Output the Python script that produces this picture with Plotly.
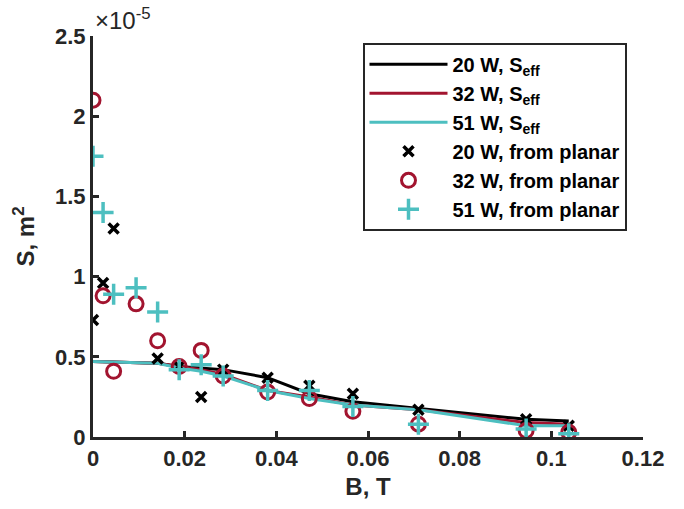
import plotly.graph_objects as go

# Magnetic field, T
B_line = [0, 0.0141, 0.0188, 0.0236, 0.0284, 0.0381, 0.0472, 0.0567, 0.071, 0.0945, 0.1038]
# Effective area S_eff, units of 1e-5 m^2
S_eff_20 = [0.47, 0.46, 0.44, 0.43, 0.42, 0.37, 0.27, 0.22, 0.18, 0.11, 0.10]
S_eff_32 = [0.47, 0.46, 0.44, 0.42, 0.39, 0.29, 0.25, 0.20, 0.17, 0.09, 0.08]
S_eff_51 = [0.47, 0.46, 0.43, 0.41, 0.38, 0.29, 0.24, 0.20, 0.17, 0.07, 0.07]

# Area from planar probe analysis, units of 1e-5 m^2
B_pts = [0, 0.0022, 0.0045, 0.0094, 0.0141, 0.0188, 0.0236, 0.0284, 0.0381, 0.0472, 0.0567, 0.071, 0.0945, 0.1038]
S_planar_20 = [0.73, 0.96, 1.30, None, 0.49, 0.44, 0.25, 0.42, 0.37, 0.32, 0.27, 0.17, 0.11, 0.07]
S_planar_32 = [2.10, 0.88, 0.41, 0.83, 0.60, 0.44, 0.54, 0.38, 0.28, 0.24, 0.16, 0.08, 0.04, 0.03]
S_planar_51 = [1.75, 1.40, 0.89, 0.93, 0.78, 0.42, 0.45, 0.38, 0.29, 0.29, 0.19, 0.08, 0.05, 0.02]

x_ticks = [0, 0.02, 0.04, 0.06, 0.08, 0.1, 0.12]
y_ticks = [0, 0.5, 1, 1.5, 2, 2.5]

C_BLACK = "#000000"
C_RED = "#A2142F"
C_TEAL = "#4DBFC0"
AX = "#262626"
FONT = "Liberation Sans, Arial, Helvetica, sans-serif"

fig = go.Figure()

for y, c, name in [(S_eff_20, C_BLACK, "20 W, S<sub>eff</sub>"),
                   (S_eff_32, C_RED, "32 W, S<sub>eff</sub>"),
                   (S_eff_51, C_TEAL, "51 W, S<sub>eff</sub>")]:
    fig.add_trace(go.Scatter(x=B_line, y=y, mode="lines", name=name,
                             line=dict(color=c, width=3)))

fig.add_trace(go.Scatter(x=B_pts, y=S_planar_20, mode="markers", name="20 W, from planar",
                         marker=dict(symbol="x-thin", size=10, color=C_BLACK,
                                     line=dict(color=C_BLACK, width=3.5))))
fig.add_trace(go.Scatter(x=B_pts, y=S_planar_32, mode="markers", name="32 W, from planar",
                         marker=dict(symbol="circle-open", size=14, color=C_RED,
                                     line=dict(color=C_RED, width=3))))
fig.add_trace(go.Scatter(x=B_pts, y=S_planar_51, mode="markers", name="51 W, from planar",
                         marker=dict(symbol="cross-thin", size=15, color=C_TEAL,
                                     line=dict(color=C_TEAL, width=3.5))))

axis_common = dict(
    showline=True, linecolor=AX, linewidth=3, mirror=False,
    ticks="inside", ticklen=6, tickwidth=2.5, tickcolor=AX,
    showgrid=False, zeroline=False,
    tickfont=dict(family=FONT, size=22, color=AX, weight="bold"),
)

fig.update_layout(
    width=684, height=509,
    margin=dict(l=93, r=41, t=36, b=72),
    paper_bgcolor="white", plot_bgcolor="white",
    showlegend=True,
    legend=dict(
        x=0.49, y=0.983, xanchor="left", yanchor="top",
        bgcolor="white", bordercolor=AX, borderwidth=2,
        font=dict(family=FONT, size=20, color="#000000", weight="bold"),
        itemwidth=78, tracegroupgap=0,
    ),
    xaxis=dict(range=[0, 0.12], tickvals=x_ticks,
               title=dict(text="B, T", font=dict(family=FONT, size=24, color=AX, weight="bold"),
                          standoff=8),
               **axis_common),
    yaxis=dict(range=[0, 2.5], tickvals=y_ticks,
               title=dict(text="S, m<sup>2</sup>", font=dict(family=FONT, size=24, color=AX, weight="bold"),
                          standoff=14),
               **axis_common),
    annotations=[dict(
        text="\u00d710<sup>-5</sup>", x=0, y=1, xref="paper", yref="paper",
        xanchor="left", yanchor="bottom", showarrow=False, xshift=0, yshift=0,
        font=dict(family=FONT, size=24, color=AX),
    )],
)

fig.write_html("out.html")
